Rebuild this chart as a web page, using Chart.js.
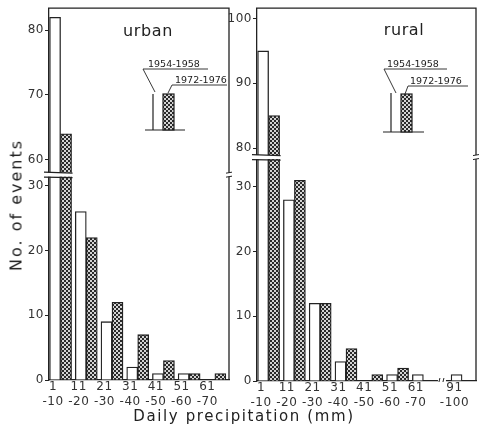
<!DOCTYPE html>
<html><head><meta charset="utf-8">
<script src="https://cdn.jsdelivr.net/npm/chart.js@4"></script>
<style>
html,body{margin:0;padding:0;background:#fff;}
#wrap{position:relative;width:479px;height:435px;overflow:hidden;font-family:"DejaVu Sans",sans-serif;color:#222;}
canvas{position:absolute;top:0;}
#cu{left:0;width:232px;height:435px;}
#cr{left:222px;width:257px;height:435px;}
#ytitle{position:absolute;left:16px;top:205px;transform:translate(-50%,-50%) rotate(-90deg);white-space:nowrap;font-size:16px;letter-spacing:2px;}
#xtitle{position:absolute;left:244px;top:416px;transform:translate(-50%,-50%);white-space:nowrap;font-size:15px;letter-spacing:1.6px;}
</style></head>
<body><div id="wrap">
<canvas id="cu" width="232" height="435"></canvas>
<canvas id="cr" width="257" height="435"></canvas>
<div id="ytitle">No. of events</div>
<div id="xtitle">Daily precipitation (mm)</div>
</div>
<script>
// ---- data ----
const seriesNames = ["1954-1958", "1972-1976"];

const urbanBinLow  = [1, 11, 21, 31, 41, 51, 61];
const urbanBinHigh = [10, 20, 30, 40, 50, 60, 70];
const urban1954 = [82, 26, 9, 2, 1, 1, 0];
const urban1972 = [64, 22, 12, 7, 3, 1, 1];
const urbanYTicks = [0, 10, 20, 30, 60, 70, 80];

const ruralBinLow  = [1, 11, 21, 31, 41, 51, 61, 91];
const ruralBinHigh = [10, 20, 30, 40, 50, 60, 70, 100];
const rural1954 = [95, 28, 12, 3, 0, 1, 1, 1];
const rural1972 = [85, 31, 12, 5, 1, 2, 0, 0];
const ruralYTicks = [0, 10, 20, 30, 80, 90, 100];

// ---- pattern for the stippled series ----
function makePattern() {
  const c = document.createElement('canvas'); c.width = 4; c.height = 4;
  const g = c.getContext('2d');
  g.fillStyle = '#d4d4d4'; g.fillRect(0, 0, 4, 4);
  g.fillStyle = '#2a2a2a'; g.fillRect(0, 0, 2, 2); g.fillRect(2, 2, 2, 2);
  return g.createPattern(c, 'repeat');
}
const stipple = makePattern();
const INK = '#222';

// ---- panel layout / axis-break settings (no data here) ----
const urbanCfg = {
  canvas: 'cu', title: 'urban', titleX: 148, titleY: 36,
  lows: urbanBinLow, highs: urbanBinHigh, s1: urban1954, s2: urban1972, yTicks: urbanYTicks,
  yBreakAt: 31.7, yGap: 26, yMax: 57.4,
  xMin: 1, xMax: 71, xBreakAt: Infinity, xGap: 0,
  padding: {top: 5, right: 3, left: 0, bottom: 0}, yWidth: 49, xHeight: 55,
  legend: {baseY: 130, baseX0: 145, baseX1: 185, lineX: 153, lineTop: 94, boxX: 163, boxW: 11, boxTop: 94,
    t1: [148, 67], u1: [69, 143, 208], lead1: [143, 69, 155, 92],
    t2: [175, 83], u2: [85, 172, 227], lead2: [172, 85, 168, 93]}
};
const ruralCfg = {
  canvas: 'cr', title: 'rural', titleX: 182, titleY: 35,
  lows: ruralBinLow, highs: ruralBinHigh, s1: rural1954, s2: rural1972, yTicks: ruralYTicks,
  yBreakAt: 34.6, yGap: 44, yMax: 57.6,
  xMin: 1, xMax: 85.9, xBreakAt: 72.7, xGap: 15,
  padding: {top: 5, right: 3, left: 0, bottom: 0}, yWidth: 35, xHeight: 54,
  legend: {baseY: 132, baseX0: 161, baseX1: 202, lineX: 169, lineTop: 93, boxX: 179, boxW: 11, boxTop: 94,
    t1: [165, 67], u1: [69, 162, 225], lead1: [162, 69, 174, 93],
    t2: [188, 84], u2: [86, 186, 246], lead2: [186, 86, 183, 94]}
};

function makePanel(cfg) {
  const mapY = v => v > cfg.yBreakAt ? v - cfg.yGap : v;
  const mapX = v => v > cfg.xBreakAt ? v - cfg.xGap : v;
  const pts = vals => cfg.lows.map((lo, i) => ({x: mapX((lo + cfg.highs[i]) / 2), y: vals[i] ? mapY(vals[i]) : null}));
  const tickFont = {family: 'DejaVu Sans', size: 12};

  const deco = {
    id: 'deco',
    beforeDraw(chart) { chart.ctx.letterSpacing = '0.5px'; },
    afterDraw(chart) {
      const ctx = chart.ctx, a = chart.chartArea, ys = chart.scales.y, xs = chart.scales.x;
      ctx.save();
      ctx.strokeStyle = INK; ctx.lineWidth = 1.3; ctx.lineCap = 'butt';
      // frame top + right
      ctx.beginPath();
      ctx.moveTo(a.left - 1, a.top); ctx.lineTo(a.right, a.top); ctx.lineTo(a.right, a.bottom);
      ctx.stroke();
      // y break across axis and tall bars
      const py = ys.getPixelForValue(cfg.yBreakAt);
      let bx1 = a.left;
      chart.data.datasets.forEach((d, di) => {
        chart.getDatasetMeta(di).data.forEach(el => {
          if (el && el.y != null && el.y < py) bx1 = Math.max(bx1, el.x + el.width / 2);
        });
      });
      ctx.fillStyle = '#fff';
      ctx.fillRect(a.left - 5, py - 2, bx1 - a.left + 6, 4);
      ctx.beginPath();
      ctx.moveTo(a.left - 5, py - 2.5); ctx.lineTo(bx1 + 1, py - 1.5);
      ctx.moveTo(a.left - 5, py + 2.5); ctx.lineTo(bx1 + 1, py + 3);
      ctx.stroke();
      // right frame break marks
      ctx.fillRect(a.right - 2, py - 2, 4, 4);
      ctx.lineWidth = 1;
      ctx.beginPath();
      ctx.moveTo(a.right - 3, py - 1.5); ctx.lineTo(a.right + 3, py - 2.5);
      ctx.moveTo(a.right - 3, py + 2.5); ctx.lineTo(a.right + 3, py + 1.5);
      ctx.stroke();
      // x break marks
      if (isFinite(cfg.xBreakAt)) {
        const px = xs.getPixelForValue(cfg.xBreakAt);
        ctx.fillStyle = '#fff';
        ctx.fillRect(px - 4, a.bottom - 2, 8, 4);
        ctx.beginPath();
        ctx.moveTo(px - 3, a.bottom + 1); ctx.lineTo(px - 2, a.bottom - 3);
        ctx.moveTo(px + 1, a.bottom + 1); ctx.lineTo(px + 2, a.bottom - 3);
        ctx.stroke();
      }
      // panel title
      ctx.fillStyle = INK;
      ctx.letterSpacing = '0.6px';
      ctx.font = '16px "DejaVu Sans"';
      ctx.textAlign = 'center'; ctx.textBaseline = 'alphabetic';
      ctx.fillText(cfg.title, cfg.titleX, cfg.titleY);
      // inset legend
      const L = cfg.legend;
      ctx.lineWidth = 1.2;
      ctx.beginPath();
      ctx.moveTo(L.baseX0, L.baseY); ctx.lineTo(L.baseX1, L.baseY);
      ctx.moveTo(L.lineX, L.baseY); ctx.lineTo(L.lineX, L.lineTop);
      ctx.stroke();
      ctx.fillStyle = stipple;
      ctx.fillRect(L.boxX, L.boxTop, L.boxW, L.baseY - L.boxTop);
      ctx.strokeRect(L.boxX, L.boxTop, L.boxW, L.baseY - L.boxTop);
      ctx.fillStyle = INK;
      ctx.font = '9.5px "DejaVu Sans"';
      ctx.letterSpacing = '0px';
      ctx.textAlign = 'left';
      ctx.fillText(seriesNames[0], L.t1[0], L.t1[1]);
      ctx.fillText(seriesNames[1], L.t2[0], L.t2[1]);
      ctx.lineWidth = 0.9;
      ctx.beginPath();
      ctx.moveTo(L.u1[1], L.u1[0]); ctx.lineTo(L.u1[2], L.u1[0]);
      ctx.moveTo(L.u2[1], L.u2[0]); ctx.lineTo(L.u2[2], L.u2[0]);
      ctx.moveTo(L.lead1[0], L.lead1[1]); ctx.lineTo(L.lead1[2], L.lead1[3]);
      ctx.moveTo(L.lead2[0], L.lead2[1]); ctx.lineTo(L.lead2[2], L.lead2[3]);
      ctx.stroke();
      ctx.restore();
    }
  };

  return new Chart(document.getElementById(cfg.canvas), {
    type: 'bar',
    data: {
      datasets: [
        {label: seriesNames[0], data: pts(cfg.s1), backgroundColor: '#fff', borderColor: INK, borderWidth: 1.3, barThickness: 11},
        {label: seriesNames[1], data: pts(cfg.s2), backgroundColor: stipple, borderColor: INK, borderWidth: 1.3, barThickness: 11}
      ]
    },
    options: {
      responsive: false, animation: false, devicePixelRatio: 1,
      layout: {padding: cfg.padding},
      plugins: {legend: {display: false}, tooltip: {enabled: false}, title: {display: false}},
      scales: {
        x: {
          type: 'linear', min: cfg.xMin, max: cfg.xMax, offset: false,
          grid: {display: false, drawTicks: false},
          border: {display: true, color: INK, width: 1.3},
          afterBuildTicks: s => { s.ticks = cfg.lows.map(lo => ({value: mapX(lo)})); },
          ticks: {
            autoSkip: false, maxRotation: 0, minRotation: 0, padding: 0, labelOffset: 4,
            font: tickFont, color: '#333',
            callback: (v, i) => [String(cfg.lows[i]), '-' + cfg.highs[i]]
          },
          afterFit: s => { s.height = cfg.xHeight; }
        },
        y: {
          type: 'linear', min: 0, max: cfg.yMax,
          grid: {display: true, drawOnChartArea: false, drawTicks: true, tickLength: 4, color: INK, lineWidth: 1},
          border: {display: true, color: INK, width: 1.3},
          afterBuildTicks: s => { s.ticks = cfg.yTicks.map(v => ({value: mapY(v)})); },
          ticks: {padding: 1, font: tickFont, color: '#333', callback: (v, i) => String(cfg.yTicks[i])},
          afterFit: s => { s.width = cfg.yWidth; }
        }
      }
    },
    plugins: [deco]
  });
}

makePanel(urbanCfg);
makePanel(ruralCfg);
</script>
</body></html>
